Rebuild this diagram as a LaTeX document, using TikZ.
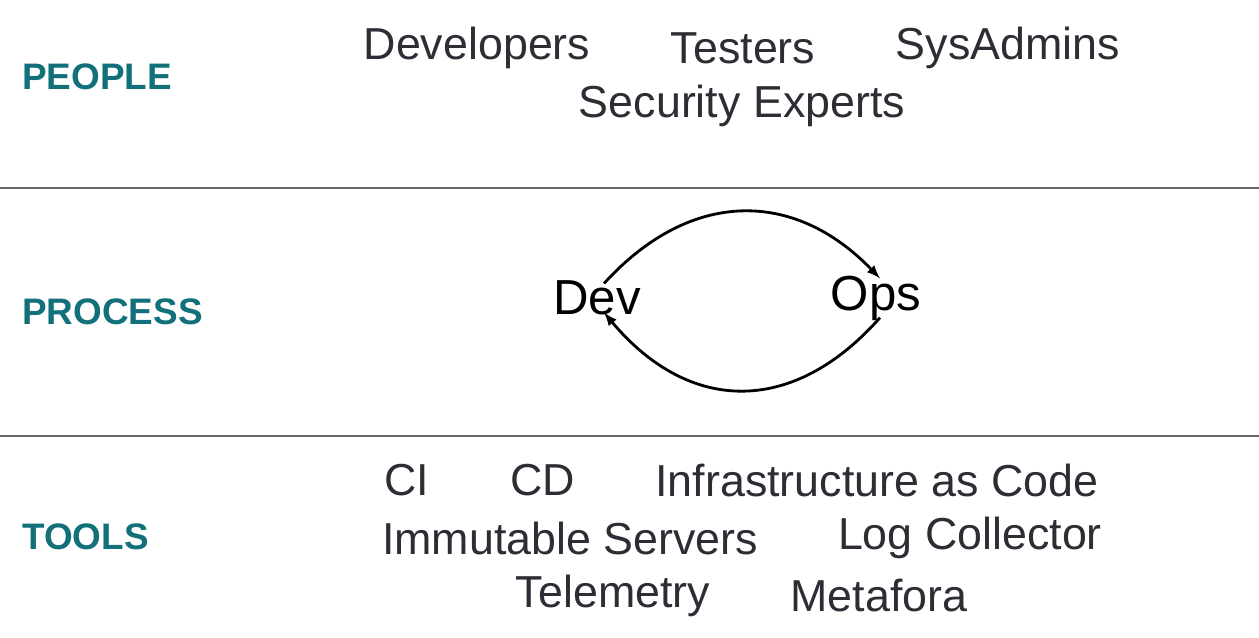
\documentclass[tikz,border=0pt]{standalone}
\usepackage{fontspec}
\setmainfont{Liberation Sans}
\definecolor{rowlabel}{HTML}{12707A}
\definecolor{itemtext}{HTML}{2D2D35}
\tikzset{
  rowname/.style={font=\fontsize{21}{24}\selectfont\bfseries,text=rowlabel,anchor=west,inner sep=0pt},
  item/.style={font=\fontsize{25.5}{30}\selectfont,text=itemtext,inner sep=0pt},
  stage/.style={font=\fontsize{28}{32}\selectfont,inner sep=0pt},
  divider/.style={gray!80!black,line width=0.6pt},
  flow/.style={-latex,line width=1.6pt}
}
\begin{document}
\begin{tikzpicture}[x=0.02cm,y=-0.02cm]
\useasboundingbox (0,0) rectangle (1259,638);
%rows
\node[rowname] (people) at (22,77) {PEOPLE};
\node[rowname] (process) at (22,312) {PROCESS};
\node[rowname] (tools) at (22,537) {TOOLS};
\draw[divider] (0,188) -- (1259,188);
\draw[divider] (0,436) -- (1259,436);
%people
\node[item] (developers) at (477,48) {Developers};
\node[item] (testers) at (743,48) {Testers};
\node[item] (sysadmins) at (1008,48) {SysAdmins};
\node[item] (security) at (742,106) {Security Experts};
%process
\node[stage] (dev) at (597,298) {Dev};
\node[stage] (ops) at (876,298) {Ops};
\draw[flow] ([xshift=0.14cm,yshift=-0.06cm]dev.north) .. controls (690,189) and (794,189) .. ([xshift=0.08cm,yshift=-0.06cm]ops.north);
\draw[flow] ([xshift=0.08cm,yshift=0.06cm]ops.south) .. controls (794,415) and (690,415) .. ([xshift=0.14cm,yshift=0.06cm]dev.south);
%tools
\node[item] (ci) at (407,480) {CI};
\node[item] (cd) at (543,480) {CD};
\node[item] (iac) at (877,480) {Infrastructure as Code};
\node[item] (immutable) at (570,538) {Immutable Servers};
\node[item] (logs) at (970,538) {Log Collector};
\node[item] (telemetry) at (613,596) {Telemetry};
\node[item] (metafora) at (879,596) {Metafora};
\end{tikzpicture}
\end{document}
